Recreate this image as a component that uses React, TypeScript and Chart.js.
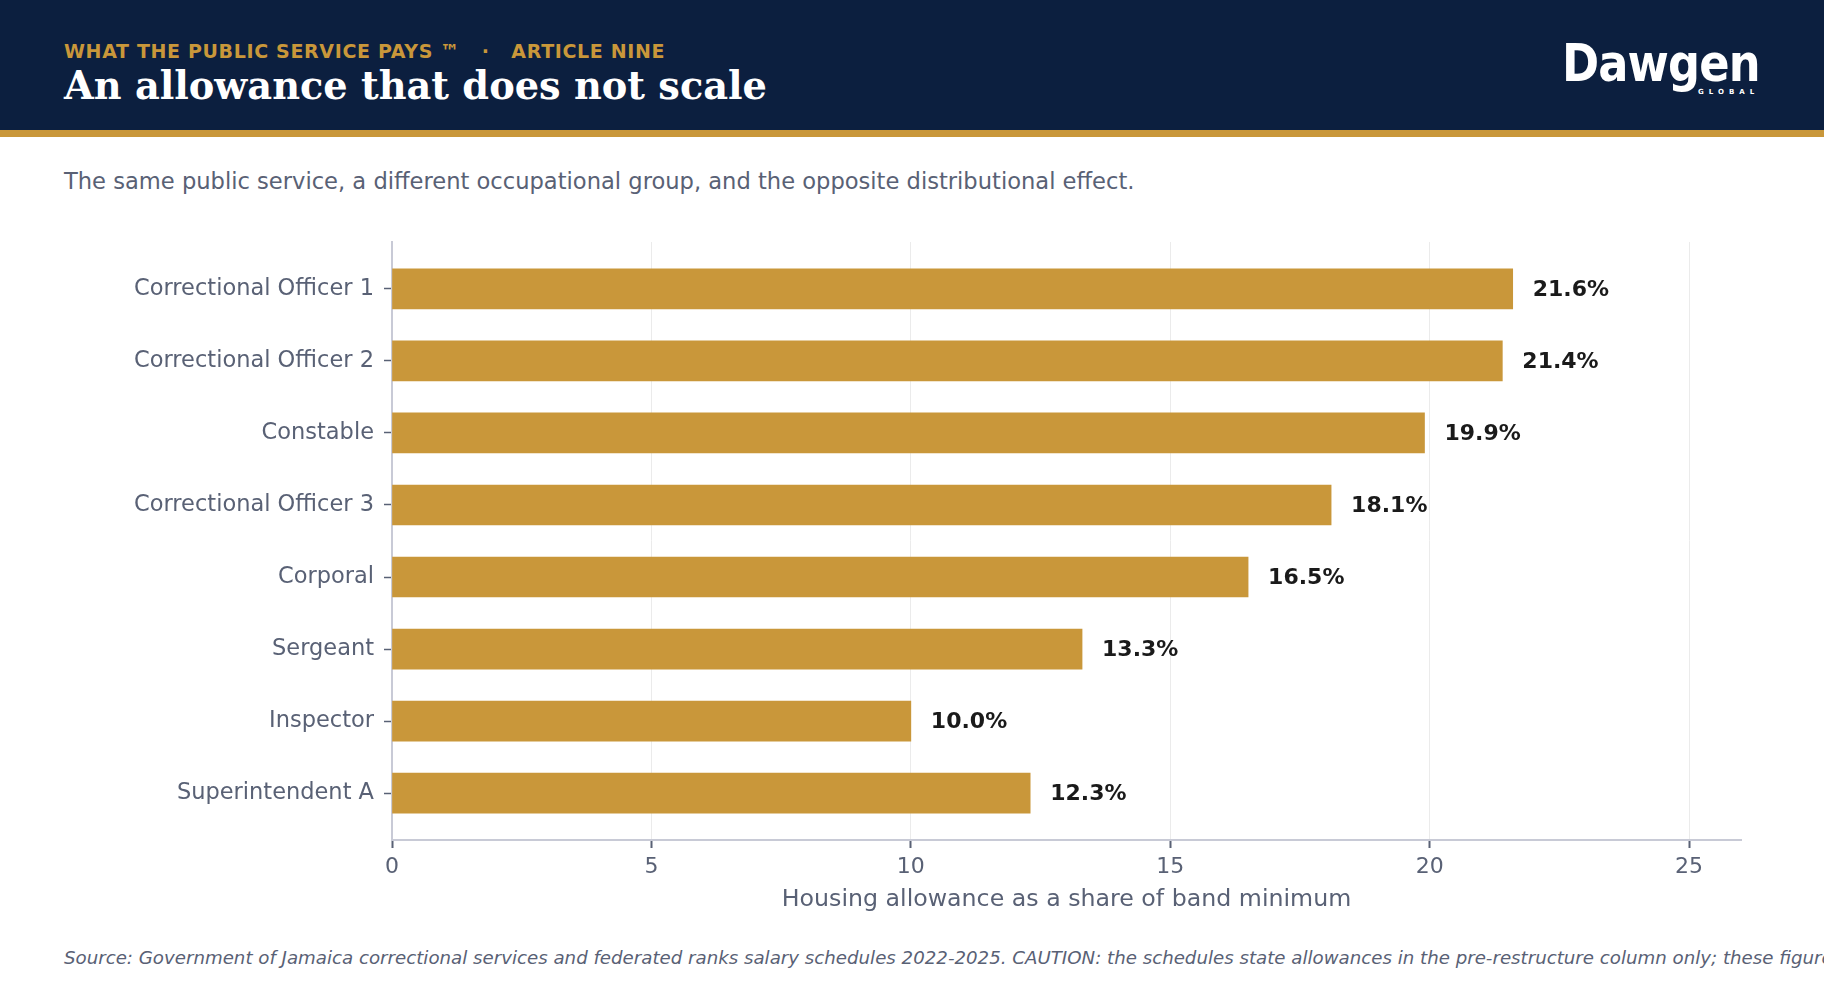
import { useEffect, useRef } from 'react';
import { Chart, registerables } from 'chart.js';
Chart.register(...registerables);

const categories = [
  'Correctional Officer 1',
  'Correctional Officer 2',
  'Constable',
  'Correctional Officer 3',
  'Corporal',
  'Sergeant',
  'Inspector',
  'Superintendent A',
];
const shares = [21.6, 21.4, 19.9, 18.1, 16.5, 13.3, 10.0, 12.3];
const xTicks = [0, 5, 10, 15, 20, 25];

const NAVY = '#0c1f3f';
const GOLD = '#c9973a';
const GREY = '#596175';

const valueLabels = {
  id: 'valueLabels',
  afterDatasetsDraw(chart: any) {
    const { ctx } = chart;
    const meta = chart.getDatasetMeta(0);
    ctx.save();
    ctx.font = 'bold 22px "DejaVu Sans"';
    ctx.fillStyle = '#1a1a1a';
    ctx.textAlign = 'left';
    ctx.textBaseline = 'middle';
    meta.data.forEach((bar: any, i: number) => {
      ctx.fillText(shares[i].toFixed(1) + '%', bar.x + 20, bar.y + 1);
    });
    ctx.restore();
  },
};

export default function App() {
  const canvasRef = useRef<HTMLCanvasElement>(null);

  useEffect(() => {
    Chart.defaults.font.family = '"DejaVu Sans"';
    const chart = new Chart(canvasRef.current!, {
      type: 'bar',
      data: {
        datasets: [{
          data: shares.map((v, i) => ({ x: v, y: i })),
          backgroundColor: GOLD,
          borderWidth: 0,
          barThickness: 40,
        }],
      },
      options: {
        indexAxis: 'y',
        animation: false,
        responsive: true,
        maintainAspectRatio: false,
        layout: { padding: { top: 12, right: 83, left: 0, bottom: 0 } },
        plugins: { legend: { display: false }, tooltip: { enabled: false } },
        scales: {
          x: {
            type: 'linear',
            min: 0,
            max: 26,
            afterBuildTicks: (axis: any) => { axis.ticks = xTicks.map((v) => ({ value: v })); },
            afterFit: (axis: any) => { axis.height = 90; },
            ticks: { color: GREY, font: { size: 22 }, padding: 6 },
            grid: { color: '#ebebeb', lineWidth: 1, tickColor: GREY, tickWidth: 2, tickLength: 8 },
            border: { color: '#c8cad6', width: 2 },
            title: {
              display: true,
              text: 'Housing allowance as a share of band minimum',
              color: GREY,
              font: { size: 23.7 },
              padding: { top: 4, bottom: 16 },
            },
          },
          y: {
            type: 'linear',
            reverse: true,
            offset: false,
            min: -0.65,
            max: 7.65,
            afterBuildTicks: (axis: any) => { axis.ticks = categories.map((_, i) => ({ value: i })); },
            afterFit: (axis: any) => { axis.width = 392; axis.paddingTop = 0; axis.paddingBottom = 0; },
            ticks: {
              color: GREY,
              font: { size: 22.5 },
              padding: 10,
              callback: (v: any) => categories[v] ?? '',
            },
            grid: { offset: false, drawOnChartArea: false, tickColor: GREY, tickWidth: 1.5, tickLength: 8 },
            border: { color: '#c8cad6', width: 2 },
          },
        },
      },
      plugins: [valueLabels],
    });
    return () => chart.destroy();
  }, []);

  return (
    <div style={{ position: 'fixed', left: 0, top: 0, width: 1824, height: 988, background: '#fff', overflow: 'hidden', fontFamily: '"DejaVu Sans", sans-serif' }}>
      <div style={{ position: 'absolute', left: 0, top: 0, width: 1824, height: 130, background: NAVY }} />
      <div style={{ position: 'absolute', left: 0, top: 130, width: 1824, height: 7, background: GOLD }} />
      <div style={{ position: 'absolute', left: 64, top: 42, lineHeight: 1, fontSize: 19, fontWeight: 700, color: GOLD, letterSpacing: 0.65, whiteSpace: 'pre' }}>
        {'WHAT THE PUBLIC SERVICE PAYS ™   ·   ARTICLE NINE'}
      </div>
      <div style={{ position: 'absolute', left: 64, top: 67, lineHeight: 1, fontSize: 38.3, fontWeight: 700, color: '#fff', fontFamily: '"DejaVu Serif", serif', whiteSpace: 'nowrap' }}>
        An allowance that does not scale
      </div>
      <div style={{ position: 'absolute', left: 1562, top: 37, color: '#fff', lineHeight: 1 }}>
        <div style={{ fontSize: 52, fontWeight: 700, letterSpacing: -1, transform: 'scaleX(0.86)', transformOrigin: 'left top', whiteSpace: 'nowrap' }}>Dawgen</div>
        <div style={{ position: 'absolute', left: 136, top: 52, fontSize: 7, fontWeight: 700, letterSpacing: 5, whiteSpace: 'nowrap' }}>GLOBAL</div>
      </div>
      <div style={{ position: 'absolute', left: 64, top: 170, lineHeight: 1, fontSize: 22.6, color: GREY, whiteSpace: 'nowrap' }}>
        The same public service, a different occupational group, and the opposite distributional effect.
      </div>
      <div style={{ position: 'absolute', left: 0, top: 230, width: 1824, height: 700 }}>
        <canvas ref={canvasRef} />
      </div>
      <div style={{ position: 'absolute', left: 64, top: 949, lineHeight: 1, fontSize: 18.2, fontStyle: 'italic', color: GREY, whiteSpace: 'nowrap' }}>
        Source: Government of Jamaica correctional services and federated ranks salary schedules 2022-2025. CAUTION: the schedules state allowances in the pre-restructure column only; these figures should be read as indicative.
      </div>
    </div>
  );
}
